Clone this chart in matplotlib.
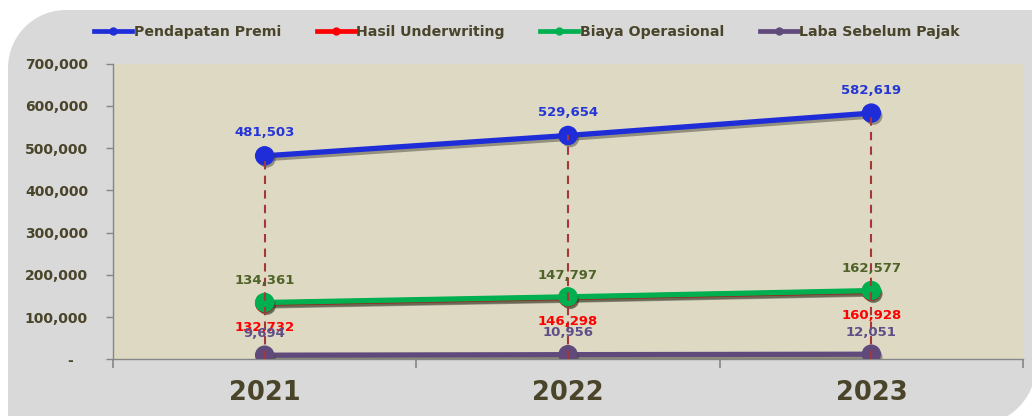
import numpy as np
import matplotlib
matplotlib.use("Agg")
import matplotlib.pyplot as plt
import matplotlib.patheffects as pe
from matplotlib.path import Path
from matplotlib.patches import PathPatch
from matplotlib.ticker import FuncFormatter, FixedLocator

# data
years = ["2021", "2022", "2023"]
pendapatan_premi = [481503, 529654, 582619]
hasil_underwriting = [132732, 146298, 160928]
biaya_operasional = [134361, 147797, 162577]
laba_sebelum_pajak = [9694, 10956, 12051]

TXT = "#4A452A"
W, H = 1032, 416

plt.rcParams["font.family"] = ["DejaVu Sans"]
plt.rcParams["font.weight"] = "bold"

fig = plt.figure(figsize=(W / 100, H / 100), dpi=100)
fig.patch.set_facecolor("white")

# gray rounded panel behind the chart (pixel coords, y up)
def arc(cx, cy, r, a0, a1, n=30):
    t = np.radians(np.linspace(a0, a1, n))
    return list(zip(cx + r * np.cos(t), cy + r * np.sin(t)))

pts = [(8, -20)]
pts += arc(66, 348, 58, 180, 90)
pts += [(1045, 406), (1036, 406)]
pts += arc(976, 51, 60, 0, -90)
pts += [(8, -9), (8, -20)]
pts = [(x / W, y / H) for x, y in pts]
panel = PathPatch(Path(pts), facecolor="#D9D9D9", edgecolor="none",
                  transform=fig.transFigure, zorder=-10)
fig.patches.append(panel)

ax = fig.add_axes([113 / W, 1 - 359.3 / H, 910 / W, 295.8 / H])
ax.set_facecolor("#DDD9C3")
x = np.arange(len(years))

line_shadow = [pe.SimpleLineShadow(offset=(1.5, -2), shadow_color="#3a3a2a", alpha=0.45),
               pe.Normal()]
dot_shadow = [pe.SimplePatchShadow(offset=(1.5, -2), shadow_rgbFace="#3a3a2a", alpha=0.45),
              pe.Normal()]

series = [
    ("Pendapatan Premi", pendapatan_premi, "#1F2DD8", "#2535D6", 16.5),
    ("Hasil Underwriting", hasil_underwriting, "#FF0000", "#FF0000", -17.5),
    ("Biaya Operasional", biaya_operasional, "#00B050", "#4F6228", 15.7),
    ("Laba Sebelum Pajak", laba_sebelum_pajak, "#604A7B", "#5F4E88", 15.8),
]

for i, (name, vals, col, lcol, off) in enumerate(series):
    ax.plot(x, vals, color=col, lw=3.8, zorder=3 + i * 0.1,
            path_effects=line_shadow, solid_capstyle="round")
    ax.plot(x, vals, ls="none", marker="o", ms=13, color=col, mec=col,
            zorder=3.05 + i * 0.1, path_effects=dot_shadow)
    for xi, v in zip(x, vals):
        ax.annotate(f"{v:,}", (xi, v), xytext=(0, off), textcoords="offset points",
                    ha="center", va="center", fontsize=9.5, fontweight="bold",
                    color=lcol, zorder=6)

# dashed drop lines
ax.vlines(x, 0, pendapatan_premi, colors="#A5373B", linestyles=(0, (4, 3)),
          lw=1.5, zorder=5)

ax.set_xlim(-0.5, 2.5)
ax.set_ylim(0, 700000)
ax.set_yticks(np.arange(0, 700001, 100000))
ax.yaxis.set_major_formatter(FuncFormatter(lambda v, p: "-   " if v == 0 else f"{int(v):,}"))
ax.set_xticks(x)
ax.set_xticklabels(years)
ax.xaxis.set_minor_locator(FixedLocator([-0.5, 0.5, 1.5, 2.5]))

ax.tick_params(axis="y", length=5, width=1, color="#868686", pad=13,
               labelsize=10, labelcolor=TXT)
ax.tick_params(axis="x", which="major", length=0, pad=15, labelsize=18.5,
               labelcolor=TXT)
ax.tick_params(axis="x", which="minor", length=6.5, width=1.2, color="#868686")
for lbl in ax.get_xticklabels() + ax.get_yticklabels():
    lbl.set_fontweight("bold")

for s in ["top", "right"]:
    ax.spines[s].set_visible(False)
for s in ["left", "bottom"]:
    ax.spines[s].set_color("#868686")
    ax.spines[s].set_linewidth(1)

handles = [plt.Line2D([], [], color=c, lw=3.4, marker="o", ms=5)
           for _, _, c, _, _ in series]
labels = [s[0] for s in series]
leg = fig.legend(handles, labels, loc="center", ncol=4,
                 bbox_to_anchor=(527 / W, 1 - 32 / H), frameon=False,
                 handlelength=2.7, handletextpad=0.1, columnspacing=2.5,
                 prop={"size": 10.2, "weight": "bold"})
for t in leg.get_texts():
    t.set_color(TXT)

fig.savefig("out.png", dpi=100)
